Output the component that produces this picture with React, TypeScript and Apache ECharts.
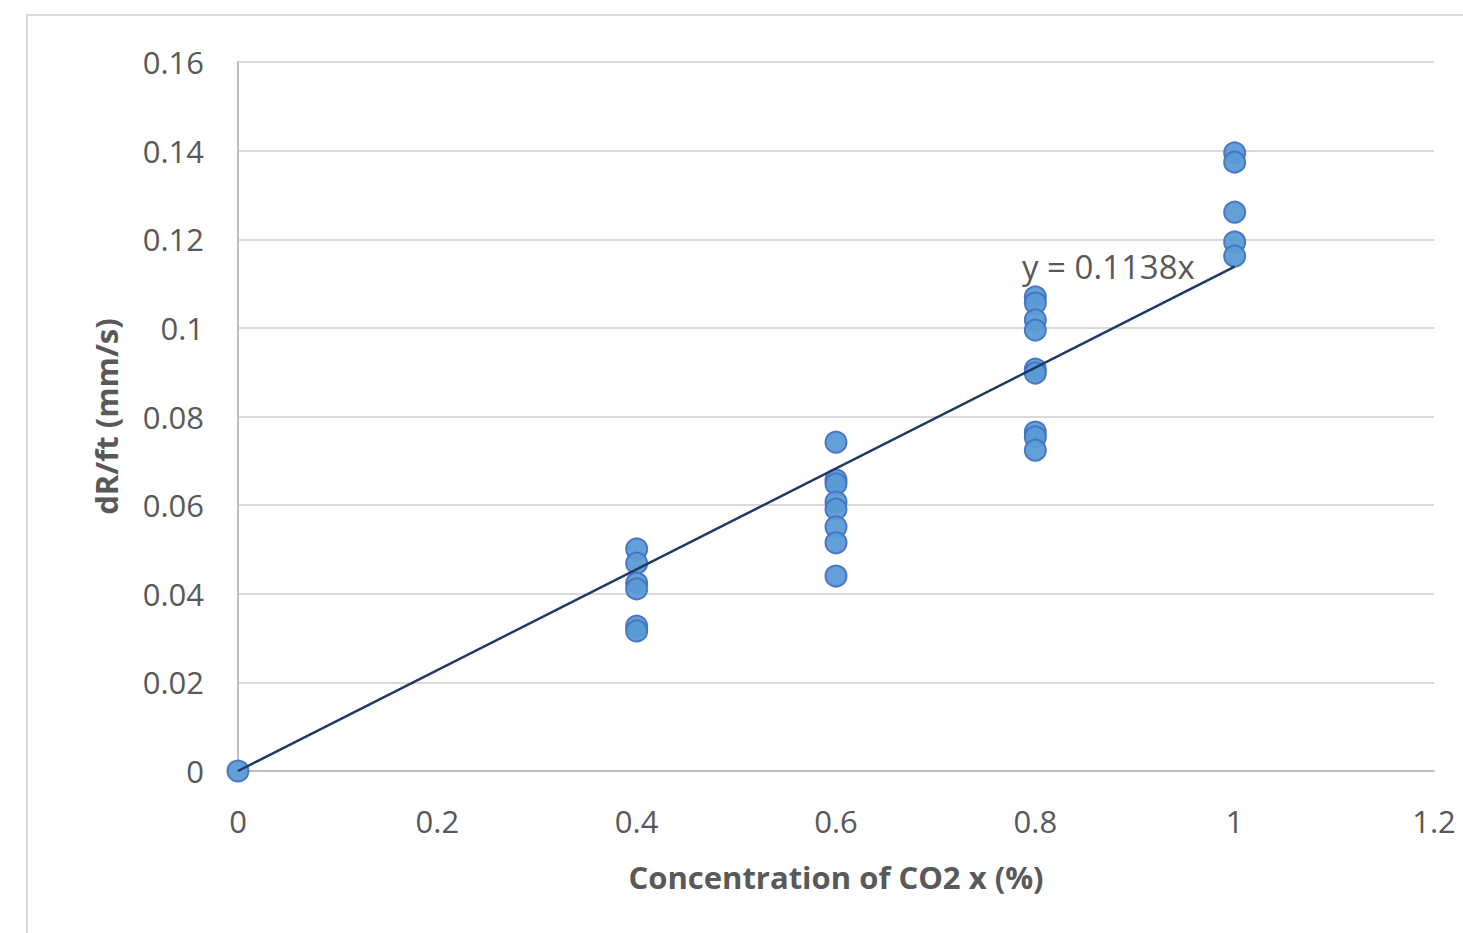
import React, { useEffect, useRef } from "react";
import * as echarts from "echarts";

const xTicks = [0, 0.2, 0.4, 0.6, 0.8, 1, 1.2];
const yTicks = [0, 0.02, 0.04, 0.06, 0.08, 0.1, 0.12, 0.14, 0.16];

const x0 = [0];
const y0 = [0];
const x04 = [0.4, 0.4, 0.4, 0.4, 0.4, 0.4];
const y04 = [0.0501, 0.0469, 0.0424, 0.0411, 0.0327, 0.0316];
const x06 = [0.6, 0.6, 0.6, 0.6, 0.6, 0.6, 0.6, 0.6];
const y06 = [0.0742, 0.0657, 0.0648, 0.0607, 0.0591, 0.0551, 0.0515, 0.044];
const x08 = [0.8, 0.8, 0.8, 0.8, 0.8, 0.8, 0.8, 0.8, 0.8];
const y08 = [0.107, 0.1056, 0.1018, 0.0995, 0.0907, 0.0898, 0.0765, 0.0754, 0.0724];
const x10 = [1, 1, 1, 1, 1];
const y10 = [0.1395, 0.1374, 0.1261, 0.1194, 0.1162];

const slope = 0.1138;
const trendX = [0, 1];
const trendLabel = "y = 0.1138x";

const xName = "Concentration of CO2 x (%)";
const yName = "dR/ft (mm/s)";

export default function App() {
  const ref = useRef<HTMLDivElement>(null);
  useEffect(() => {
    if (!ref.current) return;
    const chart = echarts.init(ref.current, undefined, { renderer: "svg" });
    const pts: number[][] = [];
    [[x0, y0], [x04, y04], [x06, y06], [x08, y08], [x10, y10]].forEach(([xs, ys]) => {
      xs.forEach((x, i) => pts.push([x, ys[i]]));
    });
    const trend = trendX.map((x) => [x, slope * x]);
    const font = "'Open Sans', sans-serif";
    const fmt = (v: number) => String(parseFloat(v.toFixed(2)));
    chart.setOption({
      animation: false,
      backgroundColor: "#ffffff",
      grid: { left: 238, right: 29, top: 62, bottom: 162 },
      xAxis: {
        type: "value",
        min: xTicks[0],
        max: xTicks[xTicks.length - 1],
        interval: 0.2,
        name: xName,
        nameLocation: "middle",
        nameGap: 90,
        nameTextStyle: { fontFamily: font, fontSize: 31, fontWeight: "bold", color: "#595959" },
        axisLine: { show: true, lineStyle: { color: "#bfbfbf", width: 2 } },
        axisTick: { show: false },
        splitLine: { show: false },
        axisLabel: { fontFamily: font, fontSize: 31, color: "#595959", margin: 34, formatter: fmt },
      },
      yAxis: {
        type: "value",
        min: yTicks[0],
        max: yTicks[yTicks.length - 1],
        interval: 0.02,
        name: yName,
        nameLocation: "middle",
        nameGap: 117,
        nameTextStyle: { fontFamily: font, fontSize: 31, fontWeight: "bold", color: "#595959" },
        axisLine: { show: true, lineStyle: { color: "#bfbfbf", width: 2 } },
        axisTick: { show: false },
        splitLine: { show: true, lineStyle: { color: "#d9d9d9", width: 2 } },
        axisLabel: { fontFamily: font, fontSize: 31, color: "#595959", margin: 34, formatter: fmt },
      },
      graphic: [
        {
          type: "rect",
          shape: { x: 27, y: 15, width: 1600, height: 1000 },
          style: { fill: "none", stroke: "#d9d9d9", lineWidth: 2 },
          silent: true,
          z: -10,
        },
        {
          type: "text",
          x: 1022,
          y: 250,
          style: { text: trendLabel, fontFamily: font, fontSize: 33, fill: "#595959" },
          z: 10,
        },
      ],
      series: [
        {
          type: "line",
          data: trend,
          showSymbol: false,
          symbol: "none",
          lineStyle: { color: "#203864", width: 2.5 },
          z: 3,
        },
        {
          type: "scatter",
          data: pts,
          symbol: "circle",
          symbolSize: 21,
          itemStyle: { color: "#5b9bd5", borderColor: "#4472c4", borderWidth: 2, opacity: 0.95 },
          z: 2,
        },
      ],
    });
    return () => chart.dispose();
  }, []);
  return <div ref={ref} style={{ position: "fixed", left: 0, top: 0, width: 1463, height: 933 }} />;
}
